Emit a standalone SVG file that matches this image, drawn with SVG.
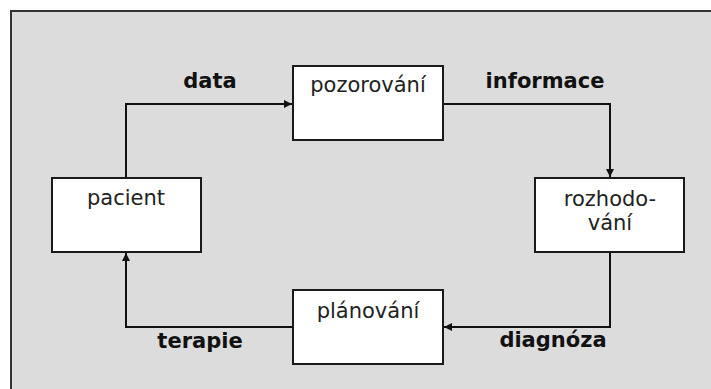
<svg xmlns="http://www.w3.org/2000/svg" width="711" height="389" viewBox="0 0 711 389">
  <defs>
    <marker id="arrow" viewBox="0 0 8 8" refX="8" refY="4" markerWidth="8" markerHeight="8" markerUnits="userSpaceOnUse" orient="auto">
      <path d="M0,0 L8,4 L0,8 z" fill="#111"/>
    </marker>
    <style>
      .box { fill: #ffffff; stroke: #1a1a1a; stroke-width: 2; }
      .name { font-family: "DejaVu Sans", Verdana, sans-serif; font-size: 21px; fill: #222; text-anchor: middle; }
      .flow { font-family: "DejaVu Sans", Verdana, sans-serif; font-size: 21px; font-weight: bold; fill: #111; text-anchor: middle; }
      .link { fill: none; stroke: #111; stroke-width: 2; marker-end: url(#arrow); }
    </style>
  </defs>

  <!-- canvas and frame -->
  <rect x="0" y="0" width="711" height="389" fill="#ffffff"/>
  <rect x="11" y="11" width="720" height="400" fill="#dcdcdc" stroke="#333" stroke-width="2"/>

  <!-- connectors -->
  <g id="connectors">
    <path class="link" d="M126,178 V104 H292"/>
    <path class="link" d="M443,104 H610 V177"/>
    <path class="link" d="M610,252 V327 H444"/>
    <path class="link" d="M293,327 H126 V253"/>
    <text class="flow" x="210" y="88">data</text>
    <text class="flow" x="545" y="88">informace</text>
    <text class="flow" x="553" y="347">diagnóza</text>
    <text class="flow" x="200" y="348">terapie</text>
  </g>

  <!-- nodes -->
  <g id="pozorovani">
    <rect class="box" x="293" y="66" width="150" height="74"/>
    <text class="name" x="368" y="92">pozorování</text>
  </g>
  <g id="rozhodovani">
    <rect class="box" x="535" y="178" width="149" height="74"/>
    <text class="name" x="610" y="206">rozhodo-</text>
    <text class="name" x="610" y="230">vání</text>
  </g>
  <g id="planovani">
    <rect class="box" x="293" y="290" width="150" height="74"/>
    <text class="name" x="368" y="318">plánování</text>
  </g>
  <g id="pacient">
    <rect class="box" x="52" y="178" width="149" height="74"/>
    <text class="name" x="126" y="205">pacient</text>
  </g>
</svg>
